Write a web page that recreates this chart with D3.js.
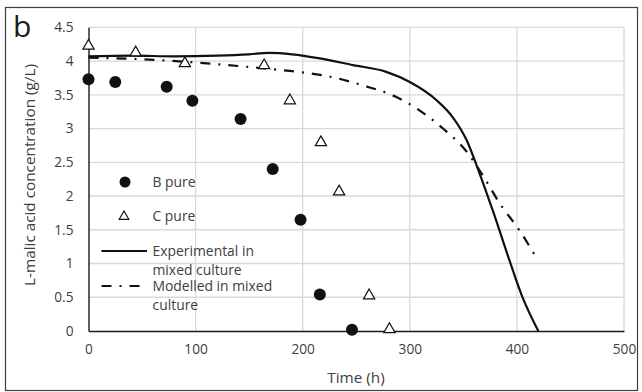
<!DOCTYPE html>
<html><head><meta charset="utf-8">
<script src="https://cdn.jsdelivr.net/npm/d3@7"></script>
<style>body{margin:0;background:#fff}svg{display:block}text{font-family:"Open Sans",sans-serif;fill:#404040}</style>
</head><body><svg id="c" width="642" height="392"></svg>
<script>
const xTicks=[0,100,200,300,400,500];
const yTicks=[0,0.5,1,1.5,2,2.5,3,3.5,4,4.5];
const bPureT=[0,25,73,97,142,172,198,216,246];
const bPureV=[3.73,3.69,3.62,3.41,3.14,2.40,1.65,0.54,0.02];
const cPureT=[0,44,90,164,188,217,234,262,281];
const cPureV=[4.21,4.11,3.95,3.92,3.40,2.78,2.05,0.51,0.01];
const expT=[0,40,80,120,150,168,190,216,247,278,300,325,340,353,365,378,393,405,420];
const expV=[4.07,4.08,4.07,4.08,4.10,4.12,4.10,4.04,3.94,3.84,3.69,3.42,3.17,2.83,2.34,1.76,1.05,0.51,0.0];
const modT=[0,45,90,130,164,190,210,225,256,287,309,331,353,368,384,402,418];
const modV=[4.05,4.03,3.99,3.94,3.89,3.85,3.81,3.77,3.64,3.47,3.27,3.00,2.66,2.31,1.89,1.50,1.09];
const legendLabels=[["B pure"],["C pure"],["Experimental in","mixed culture"],["Modelled in mixed","culture"]];

const svg=d3.select("#c");
svg.append("rect").attr("x",5.5).attr("y",7.5).attr("width",632).attr("height",383).attr("fill","none").attr("stroke","#404040").attr("stroke-width",1.2);
const x=d3.scaleLinear().domain([0,500]).range([88.5,624]);
const y=d3.scaleLinear().domain([0,4.5]).range([331,27.3]);
const g=svg.append("g");
g.selectAll(".gx").data(xTicks.slice(1)).join("line").attr("x1",d=>x(d)).attr("x2",d=>x(d)).attr("y1",y(0)).attr("y2",y(4.5)).attr("stroke","#d9d9d9").attr("stroke-width",1.3);
g.selectAll(".gy").data(yTicks.slice(1)).join("line").attr("x1",x(0)).attr("x2",x(500)).attr("y1",d=>y(d)).attr("y2",d=>y(d)).attr("stroke","#d9d9d9").attr("stroke-width",1.3);
const xa=g.append("g").attr("transform",`translate(0,${y(0)})`).call(d3.axisBottom(x).tickValues(xTicks).tickSize(0).tickPadding(13));
const ya=g.append("g").attr("transform",`translate(${x(0)},0)`).call(d3.axisLeft(y).tickValues(yTicks).tickSize(0).tickPadding(15).tickFormat(d=>String(d)));
[xa,ya].forEach(a=>{a.select(".domain").attr("stroke","#1a1a1a").attr("stroke-width",1.4);a.selectAll("text").attr("font-size",13.7).attr("fill","#404040").attr("font-family","Open Sans");});
const line=d3.line().x(d=>x(d[0])).y(d=>y(d[1])).curve(d3.curveMonotoneX);
g.append("path").datum(expT.map((t,i)=>[t,expV[i]])).attr("d",line).attr("fill","none").attr("stroke","#111").attr("stroke-width",2.2);
g.append("path").datum(modT.map((t,i)=>[t,modV[i]])).attr("d",line).attr("fill","none").attr("stroke","#111").attr("stroke-width",2.2).attr("stroke-dasharray","10,8,2,8");
g.selectAll(".b").data(bPureT.map((t,i)=>[t,bPureV[i]])).join("circle").attr("cx",d=>x(d[0])).attr("cy",d=>y(d[1])).attr("r",6).attr("fill","#111");
const tri=d3.symbol().type(d3.symbolTriangle).size(55);
const triS=d3.symbol().type(d3.symbolTriangle).size(40);
g.selectAll(".c").data(cPureT.map((t,i)=>[t,cPureV[i]])).join("path").attr("d",tri).attr("transform",d=>`translate(${x(d[0])},${y(d[1])-1})`).attr("fill","#fff").attr("stroke","#111").attr("stroke-width",1.2);
const L=svg.append("g");
L.append("circle").attr("cx",125).attr("cy",182).attr("r",5.5).attr("fill","#111");
L.append("path").attr("d",triS).attr("transform","translate(124,216.5)").attr("fill","#fff").attr("stroke","#111").attr("stroke-width",1.2);
L.append("line").attr("x1",101.5).attr("x2",147).attr("y1",251).attr("y2",251).attr("stroke","#111").attr("stroke-width",2.2);
L.append("line").attr("x1",101.5).attr("x2",147).attr("y1",286).attr("y2",286).attr("stroke","#111").attr("stroke-width",2.2).attr("stroke-dasharray","10,8,2,8");
const ly=[182,216.5,251,286];
legendLabels.forEach((lines,i)=>{lines.forEach((s,j)=>{L.append("text").attr("x",152.5).attr("y",ly[i]+j*19.5).attr("dy","0.35em").attr("font-size",13.9).text(s);});});
svg.append("text").attr("transform","translate(30,175) rotate(-90)").attr("text-anchor","middle").attr("dy","0.35em").attr("font-size",15.3).text("L-malic acid concentration (g/L)");
svg.append("text").attr("x",356).attr("y",378).attr("text-anchor","middle").attr("dy","0.35em").attr("font-size",15.3).text("Time (h)");
svg.append("text").attr("x",13).attr("y",36.7).attr("font-size",30).style("fill","#1a1a1a").text("b");
</script></body></html>
